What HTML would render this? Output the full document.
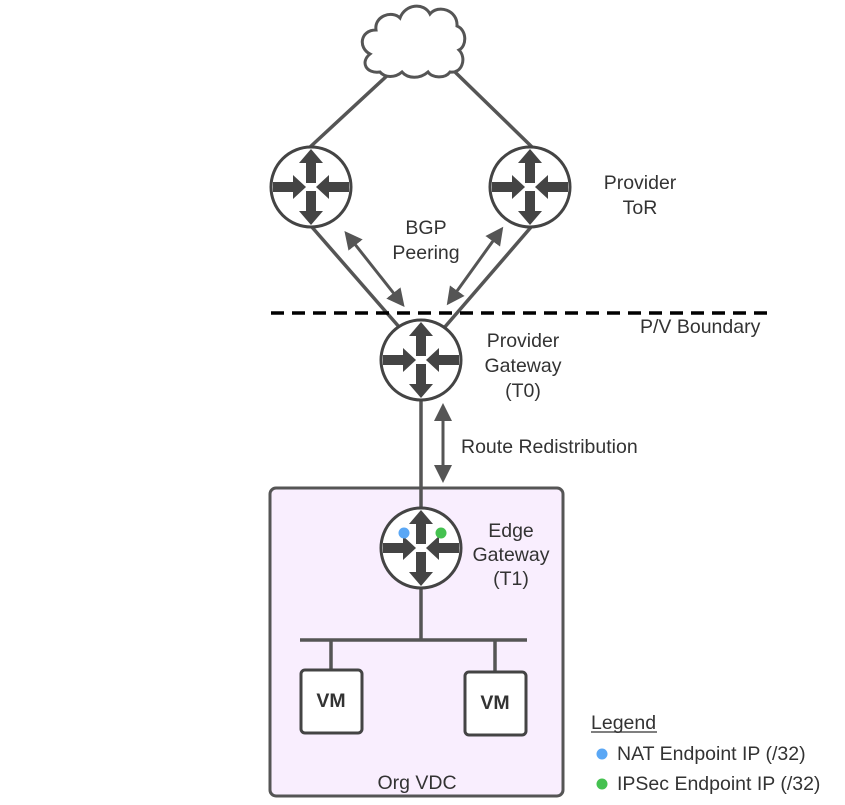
<!DOCTYPE html>
<html><head><meta charset="utf-8"><style>
body{margin:0;background:#fff}
svg{display:block}
text{font-family:"Liberation Sans",sans-serif;fill:#333;font-size:19.5px}
</style></head><body>
<svg width="845" height="805" viewBox="0 0 845 805">
<defs>
<g id="r">
<circle r="40" fill="#fff" stroke="#444" stroke-width="3"/>
<g fill="#444">
<rect x="-5" y="-26" width="10" height="22"/><polygon points="-12,-24 12,-24 0,-38"/>
<rect x="-5" y="4" width="10" height="22"/><polygon points="-12,24 12,24 0,38"/>
<rect x="-38" y="-5" width="22" height="10"/><polygon points="-18,-12 -18,12 -5,0"/>
<rect x="16" y="-5" width="22" height="10"/><polygon points="18,-12 18,12 5,0"/>
</g>
</g>
<marker id="ah" markerWidth="6" markerHeight="6" refX="3" refY="3" orient="auto-start-reverse" markerUnits="strokeWidth"><path d="M0,0 L6,3 L0,6 z" fill="#555"/></marker>
</defs>
<rect x="270" y="488" width="293" height="308" rx="6" fill="#f9eefe" stroke="#555" stroke-width="3"/>
<g stroke="#555" stroke-width="3.5" fill="none">
<line x1="390" y1="73" x2="309" y2="148"/>
<line x1="455" y1="72" x2="532" y2="147"/>
<line x1="311" y1="226" x2="400" y2="328"/>
<line x1="532" y1="226" x2="444" y2="328"/>
<line x1="421" y1="398" x2="421" y2="512"/>
<line x1="421" y1="586" x2="421" y2="640"/>
<line x1="300" y1="640" x2="527" y2="640"/>
<line x1="331" y1="640" x2="331" y2="670"/>
<line x1="495" y1="640" x2="495" y2="672"/>
</g>
<g stroke="#555" stroke-width="3" marker-start="url(#ah)" marker-end="url(#ah)">
<line x1="350" y1="238" x2="399" y2="300"/>
<line x1="498" y1="234" x2="452" y2="298"/>
<line x1="443" y1="412" x2="443" y2="474"/>
</g>
<line x1="271" y1="313" x2="770" y2="313" stroke="#000" stroke-width="3.5" stroke-dasharray="13,8"/>
<path d="M380,72 C366,74 360,62 370,54 C358,48 360,30 376,30 C374,16 392,10 400,18 C405,4 424,2 430,14 C438,4 458,10 457,26 C467,30 467,46 459,50 C467,58 462,74 450,72 C445,79 432,78 428,72 C420,79 408,79 402,72 C395,78 385,78 380,72 Z" fill="#fff" stroke="#555" stroke-width="3"/>
<use href="#r" x="311" y="187"/>
<use href="#r" x="530" y="187"/>
<use href="#r" x="421" y="360"/>
<use href="#r" x="421" y="548"/>
<circle cx="404" cy="533" r="5.5" fill="#5aa7f5"/>
<circle cx="441" cy="533" r="5.5" fill="#45c150"/>
<rect x="301" y="670" width="61" height="63" rx="4" fill="#fff" stroke="#444" stroke-width="3"/>
<rect x="465" y="672" width="61" height="63" rx="4" fill="#fff" stroke="#444" stroke-width="3"/>
<text x="331" y="707" text-anchor="middle" font-weight="bold" font-size="17" style="fill:#333">VM</text>
<text x="495" y="709" text-anchor="middle" font-weight="bold" font-size="17" style="fill:#333">VM</text>
<text x="426" y="234" text-anchor="middle">BGP</text>
<text x="426" y="259" text-anchor="middle">Peering</text>
<text x="640" y="189" text-anchor="middle">Provider</text>
<text x="640" y="214" text-anchor="middle">ToR</text>
<text x="640" y="333">P/V Boundary</text>
<text x="523" y="347" text-anchor="middle">Provider</text>
<text x="523" y="372" text-anchor="middle">Gateway</text>
<text x="523" y="397" text-anchor="middle">(T0)</text>
<text x="461" y="453">Route Redistribution</text>
<text x="511" y="537" text-anchor="middle">Edge</text>
<text x="511" y="561" text-anchor="middle">Gateway</text>
<text x="511" y="585" text-anchor="middle">(T1)</text>
<text x="417" y="789" text-anchor="middle">Org VDC</text>
<text x="591" y="729">Legend</text>
<line x1="591" y1="732" x2="657" y2="732" stroke="#333" stroke-width="1.2"/>
<circle cx="602" cy="754" r="5.5" fill="#5aa7f5"/>
<text x="617" y="760">NAT Endpoint IP (/32)</text>
<circle cx="602" cy="784" r="5.5" fill="#45c150"/>
<text x="617" y="790">IPSec Endpoint IP (/32)</text>
</svg>
</body></html>
